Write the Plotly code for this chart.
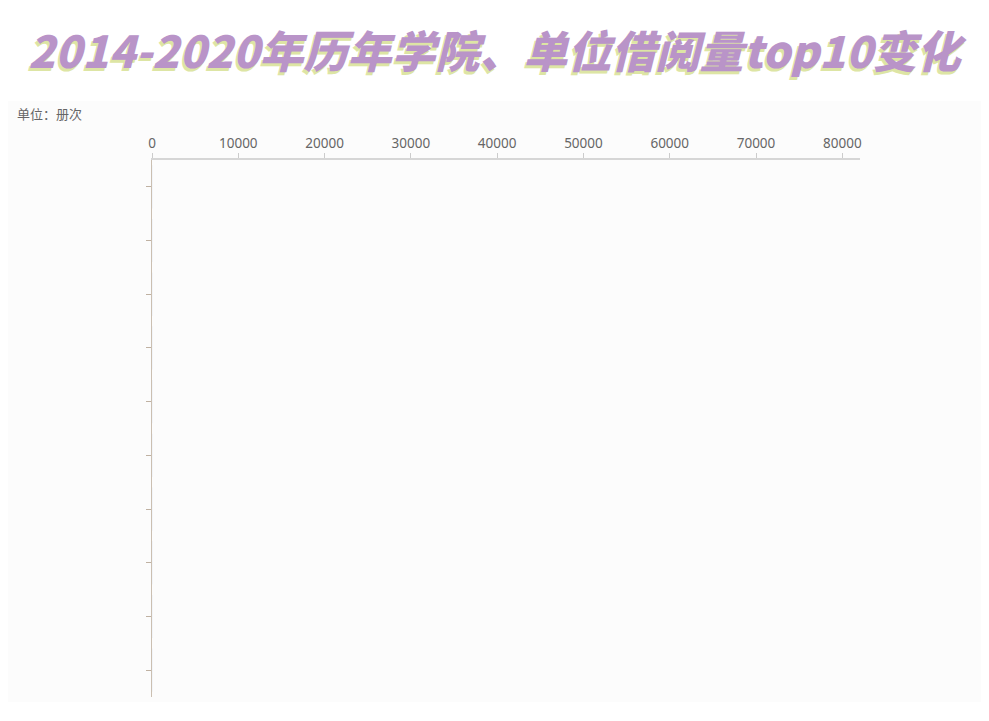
import plotly.graph_objects as go

# 排名位置（隐藏标签），当前帧没有数据 -> 柱子全为 0
ranks = ["top1", "top2", "top3", "top4", "top5",
         "top6", "top7", "top8", "top9", "top10"]
borrow_counts = [0, 0, 0, 0, 0, 0, 0, 0, 0, 0]
x_ticks = [0, 10000, 20000, 30000, 40000, 50000, 60000, 70000, 80000]

title_text = "2014-2020年历年学院、单位借阅量top10变化"
unit_text = "单位：册次"

# 页面 body 有 8px 边距，所有位置都减去 8
W, H = 973, 705
L, R, T, B = 144, 121, 152, 16
pw, ph = W - L - R, H - T - B

fig = go.Figure()
fig.add_trace(go.Bar(
    x=borrow_counts, y=ranks, orientation="h",
    marker_color="#b994c8", showlegend=False, hoverinfo="skip"
))

# 图表区域的浅灰底色
fig.add_shape(
    type="rect", xref="paper", yref="paper", layer="below",
    x0=-L / pw, x1=(W - L) / pw,
    y0=(H - B - 694) / ph, y1=(H - B - 93) / ph,
    fillcolor="#fcfcfc", line_width=0
)

fig.add_annotation(
    text=unit_text, xref="paper", yref="paper",
    x=(7 - L) / pw, y=(H - B - 106) / ph,
    xanchor="left", yanchor="middle", showarrow=False,
    font=dict(family="Noto Sans CJK SC", size=13, color="#666666")
)

fig.update_layout(
    width=W, height=H,
    margin=dict(l=L, r=R, t=T, b=B),
    paper_bgcolor="white",
    plot_bgcolor="rgba(0,0,0,0)",
    title=dict(
        text=title_text, x=0.5, xref="container", xanchor="center",
        y=1 - 45 / H, yref="container", yanchor="middle",
        font=dict(family="Noto Sans CJK SC", size=44, color="#b994c8",
                  weight=900, style="italic",
                  shadow="-2px 3px 0px #dde5a4")
    ),
    xaxis=dict(
        side="top", range=[0, 82050], tickvals=x_ticks, tickformat="d",
        showgrid=False, zeroline=False,
        showline=True, linecolor="#d6d6d6", linewidth=1.5,
        ticks="outside", ticklen=5, tickcolor="#cccccc",
        tickfont=dict(family="Noto Sans", size=13.5, color="#666666"),
        fixedrange=True
    ),
    yaxis=dict(
        type="category", categoryorder="array", categoryarray=ranks,
        range=[9.5, -0.5], showticklabels=False,
        showgrid=False, zeroline=False,
        showline=True, linecolor="#cbbfb1", linewidth=1,
        ticks="outside", ticklen=5, tickcolor="#bfb1a2",
        fixedrange=True
    ),
)

fig.write_html("out.html")
